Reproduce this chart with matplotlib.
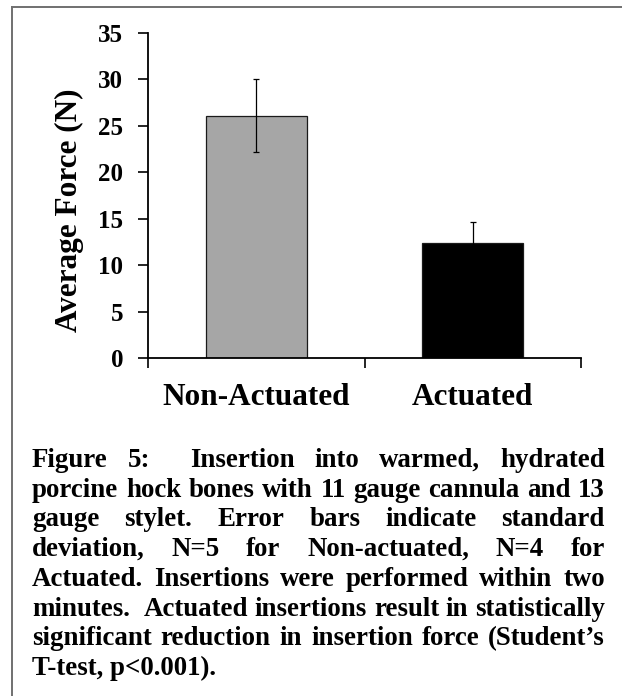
import matplotlib
matplotlib.use("Agg")
import matplotlib.pyplot as plt
from matplotlib.lines import Line2D
import numpy as np

# data
categories = ["Non-Actuated", "Actuated"]
mean_force = [26.1, 12.4]
sd_force = [3.95, 2.3]
bar_colors = ["#A6A6A6", "#000000"]
yticks = [0, 5, 10, 15, 20, 25, 30, 35]

caption_lines = [
    "Figure 5:  Insertion into warmed, hydrated",
    "porcine hock bones with 11 gauge cannula and 13",
    "gauge stylet. Error bars indicate standard",
    "deviation, N=5 for Non-actuated, N=4 for",
    "Actuated. Insertions were performed within two",
    "minutes.  Actuated insertions result in statistically",
    "significant reduction in insertion force (Student\u2019s",
    "T-test, p<0.001).",
]

plt.rcParams['font.family'] = ['Liberation Serif', 'DejaVu Serif']
plt.rcParams['font.weight'] = 'bold'

W, H = 622, 696
fig = plt.figure(figsize=(W / 100, H / 100), dpi=100)
ax = fig.add_axes([148 / W, 1 - 358 / H, (581 - 148) / W, (358 - 33) / H])

x = np.arange(len(categories))
ax.bar(x, mean_force, width=0.465, color=bar_colors, edgecolor="#1a1a1a",
       linewidth=0.9, zorder=2)
ax.errorbar(x, mean_force, yerr=sd_force, fmt='none', ecolor='black',
            elinewidth=0.9, capsize=2.3, capthick=0.9, zorder=3)

ax.set_xlim(-0.5, 1.5)
ax.set_ylim(0, 35)
ax.set_yticks(yticks)
ax.set_yticklabels([str(v) for v in yticks], fontsize=18, fontweight='bold')
ax.set_xticks([-0.5, 0.5, 1.5])
ax.set_xticklabels([])
ax.set_xticks(x, minor=True)
ax.set_xticklabels(categories, minor=True, fontsize=22.5, fontweight='bold')
ax.tick_params(axis='x', which='minor', length=0, pad=18)
ax.tick_params(axis='x', which='major', direction='out', length=7, width=1.2)
ax.tick_params(axis='y', direction='out', length=7, width=1.2, pad=11)
for s in ['top', 'right']:
    ax.spines[s].set_visible(False)
for s in ['left', 'bottom']:
    ax.spines[s].set_linewidth(1.3)
ax.set_ylabel("Average Force (N)", fontsize=22.5, fontweight='bold')
ax.yaxis.set_label_coords(-0.148, 0.455)

# frame round the figure (only left and top edges show)
fx, fy = 12 / W, 1 - 7 / H
fig.add_artist(Line2D([fx, fx], [0, fy], color='#707070', lw=1.4))
fig.add_artist(Line2D([fx, 1], [fy, fy], color='#707070', lw=1.4))

# justified caption
renderer = fig.canvas.get_renderer()
left, right = 32, 605

def tw(s, size):
    t = fig.text(0, 0, s, fontsize=size, fontweight='bold')
    w = t.get_window_extent(renderer).width
    t.remove()
    return w

sp = tw("x x", 10) - tw("xx", 10)
nat = max(sum(tw(w, 10) for w in ln.split(' ')) + sp * (len(ln.split(' ')) - 1)
          for ln in caption_lines[:-1])
fs = 10 * (right - left) / nat

for i, ln in enumerate(caption_lines):
    yb = 1 - (467 + i * 29.7) / H
    if i == len(caption_lines) - 1:
        fig.text(left / W, yb, ln, fontsize=fs, fontweight='bold', va='baseline')
        continue
    toks = ln.split(' ')
    widths = [tw(t, fs) for t in toks]
    gap = (right - left - sum(widths)) / (len(toks) - 1)
    xp = left
    for t, w in zip(toks, widths):
        if t:
            fig.text(xp / W, yb, t, fontsize=fs, fontweight='bold', va='baseline')
        xp += w + gap

fig.savefig("out.png", dpi=100)
